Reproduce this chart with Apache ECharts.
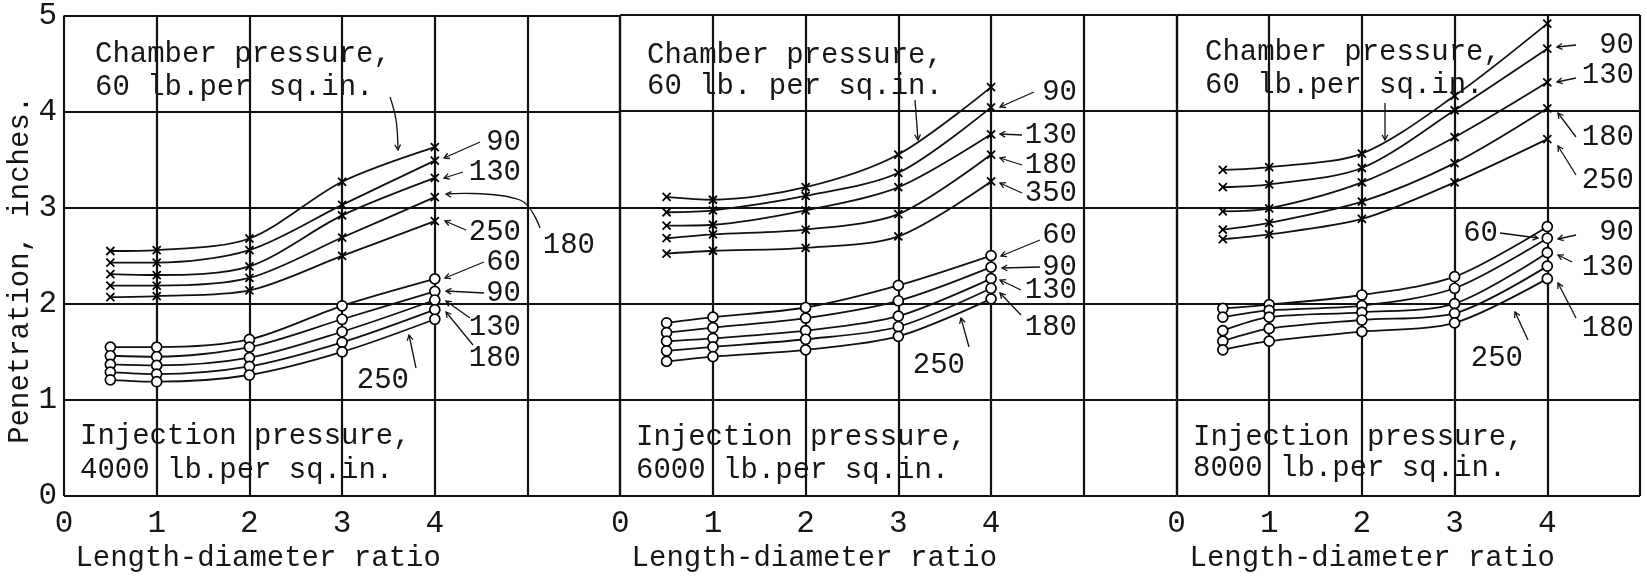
<!DOCTYPE html>
<html>
<head>
<meta charset="utf-8">
<script src="https://cdn.jsdelivr.net/npm/echarts@6/dist/echarts.min.js"></script>
<style>
  html, body { margin: 0; padding: 0; background: #fff; }
  #penChart { width: 1647px; height: 578px; }
</style>
</head>
<body>
<div id="penChart"></div>
<script>
// length-diameter ratios where points were measured
const ratios = [0.5, 1, 2, 3, 4];
// chamber pressures, lb per sq in (one curve each)
const chamberPressures = [60, 90, 130, 180, 250];
const xTicks = [0, 1, 2, 3, 4];
const yTicks = [0, 1, 2, 3, 4, 5];

// injection pressure 4000 lb/sq in
const inj4000Cross = [
  [2.55, 2.56, 2.68, 3.27, 3.63],
  [2.43, 2.43, 2.56, 3.03, 3.49],
  [2.31, 2.30, 2.39, 2.92, 3.31],
  [2.19, 2.19, 2.27, 2.69, 3.11],
  [2.07, 2.08, 2.14, 2.50, 2.86],
];
const inj4000Circle = [
  [1.55, 1.55, 1.63, 1.98, 2.26],
  [1.46, 1.45, 1.55, 1.84, 2.13],
  [1.37, 1.36, 1.44, 1.71, 2.04],
  [1.29, 1.27, 1.35, 1.60, 1.94],
  [1.21, 1.19, 1.26, 1.50, 1.84],
];
// injection pressure 6000 lb/sq in
const inj6000Cross = [
  [3.11, 3.08, 3.21, 3.55, 4.25],
  [2.95, 2.97, 3.12, 3.36, 4.04],
  [2.81, 2.82, 2.97, 3.21, 3.76],
  [2.68, 2.72, 2.77, 2.93, 3.55],
  [2.52, 2.55, 2.58, 2.70, 3.27],
];
const inj6000Circle = [
  [1.80, 1.86, 1.96, 2.19, 2.50],
  [1.70, 1.75, 1.85, 2.03, 2.38],
  [1.61, 1.64, 1.72, 1.87, 2.26],
  [1.51, 1.55, 1.63, 1.76, 2.16],
  [1.40, 1.45, 1.52, 1.66, 2.05],
];
// injection pressure 8000 lb/sq in
const inj8000Cross = [
  [3.39, 3.42, 3.56, 4.16, 4.91],
  [3.21, 3.24, 3.41, 4.01, 4.65],
  [2.96, 2.99, 3.26, 3.73, 4.30],
  [2.77, 2.84, 3.06, 3.46, 4.03],
  [2.67, 2.72, 2.88, 3.26, 3.71],
];
const inj8000Circle = [
  [1.95, 1.99, 2.09, 2.28, 2.80],
  [1.86, 1.93, 1.98, 2.16, 2.68],
  [1.72, 1.86, 1.91, 2.00, 2.53],
  [1.61, 1.74, 1.83, 1.90, 2.39],
  [1.52, 1.61, 1.71, 1.80, 2.26],
];

const panels = [
  { cross: inj4000Cross, circle: inj4000Circle },
  { cross: inj6000Cross, circle: inj6000Circle },
  { cross: inj8000Cross, circle: inj8000Circle },
];

var myChart = echarts.init(document.getElementById("penChart"));

const FONT = "Liberation Mono";
const INK = "#161616";
const col = (1640 - 64) / 17; // one grid square

const grids = [
  { left: 64, width: col * 6, top: 15, height: 484 },
  { left: 64 + col * 6, width: col * 6, top: 15, height: 484 },
  { left: 64 + col * 12, width: col * 5, top: 15, height: 484 },
];

const xAxes = grids.map((g, i) => ({
  type: "value",
  gridIndex: i,
  min: 0,
  max: i == 2 ? 5 : 6,
  interval: 1,
  axisLine: { show: false },
  axisTick: { show: false },
  axisLabel: {
    margin: 12,
    fontFamily: FONT,
    fontSize: 31,
    color: INK,
    formatter: (v) => (xTicks.indexOf(v) >= 0 ? String(v) : ""),
  },
  splitLine: { lineStyle: { color: "#111", width: 2.2 } },
  name: "Length-diameter ratio",
  nameLocation: "middle",
  nameGap: 42,
  nameTextStyle: {
    fontFamily: FONT,
    fontSize: 29,
    color: INK,
    padding: [0, i == 2 ? 72 : 168, 0, 0],
  },
}));

const yAxes = grids.map((g, i) => ({
  type: "value",
  gridIndex: i,
  min: 0,
  max: 5,
  interval: 1,
  axisLine: { show: false },
  axisTick: { show: false },
  axisLabel: {
    show: i == 0,
    margin: 7,
    fontFamily: FONT,
    fontSize: 31,
    color: INK,
    padding: [6, 0, 0, 0],
    formatter: (v) => (yTicks.indexOf(v) >= 0 ? String(v) : ""),
  },
  splitLine: { lineStyle: { color: "#111", width: 2.2 } },
  name: i == 0 ? "Penetration, inches." : "",
  nameLocation: "middle",
  nameGap: 22,
  nameTextStyle: { fontFamily: FONT, fontSize: 29, color: INK, padding: [0, 28, 0, 0] },
}));

const series = [];
panels.forEach((p, gi) => {
  chamberPressures.forEach((cp, k) => {
    series.push({
      name: cp + " (x)",
      type: "line",
      xAxisIndex: gi,
      yAxisIndex: gi,
      smooth: 0.3,
      symbol: "path://M0,0L10,10M10,0L0,10",
      symbolSize: 8,
      itemStyle: { color: "transparent", borderColor: "#000", borderWidth: 1.8 },
      lineStyle: { color: "#111", width: 1.8 },
      data: ratios.map((r, j) => [r, p.cross[k][j]]),
      z: 3,
    });
    series.push({
      name: cp + " (o)",
      type: "line",
      xAxisIndex: gi,
      yAxisIndex: gi,
      smooth: 0.3,
      symbol: "circle",
      symbolSize: 10,
      itemStyle: { color: "#fff", borderColor: "#000", borderWidth: 1.7 },
      lineStyle: { color: "#111", width: 1.8 },
      data: ratios.map((r, j) => [r, p.circle[k][j]]),
      z: 3,
    });
  });
});

// annotation texts: [text, x, y, align]
const notes = [
  ["Chamber pressure,", 95, 54, "left"],
  ["60 lb.per sq.in.", 95, 87, "left"],
  ["Injection pressure,", 80, 436, "left"],
  ["4000 lb.per sq.in.", 80, 470, "left"],
  ["90", 521, 142, "right"],
  ["130", 521, 172, "right"],
  ["250", 521, 232, "right"],
  ["180", 595, 245, "right"],
  ["60", 521, 262, "right"],
  ["90", 521, 293, "right"],
  ["130", 521, 327, "right"],
  ["180", 521, 358, "right"],
  ["250", 409, 380, "right"],

  ["Chamber pressure,", 647, 55, "left"],
  ["60 lb. per sq.in.", 647, 86, "left"],
  ["Injection pressure,", 636, 437, "left"],
  ["6000 lb.per sq.in.", 636, 470, "left"],
  ["90", 1077, 92, "right"],
  ["130", 1077, 135, "right"],
  ["180", 1077, 165, "right"],
  ["350", 1077, 193, "right"],
  ["60", 1077, 235, "right"],
  ["90", 1077, 267, "right"],
  ["130", 1077, 290, "right"],
  ["180", 1077, 327, "right"],
  ["250", 965, 365, "right"],

  ["Chamber pressure,", 1205, 52, "left"],
  ["60 lb.per sq.in.", 1205, 85, "left"],
  ["Injection pressure,", 1193, 437, "left"],
  ["8000 lb.per sq.in.", 1193, 468, "left"],
  ["90", 1634, 45, "right"],
  ["130", 1634, 75, "right"],
  ["180", 1634, 137, "right"],
  ["250", 1634, 180, "right"],
  ["60", 1498, 233, "right"],
  ["90", 1634, 232, "right"],
  ["130", 1634, 267, "right"],
  ["180", 1634, 328, "right"],
  ["250", 1523, 358, "right"],
];

// leader arrows: from label to curve
const leaders = [
  [[390, 97], [396, 120], [398, 150]],
  [[480, 142], [444, 158]],
  [[463, 172], [444, 178]],
  [[540, 228], [520, 200], [446, 194]],
  [[466, 230], [445, 221]],
  [[484, 262], [445, 278]],
  [[484, 293], [446, 291]],
  [[470, 318], [446, 301]],
  [[473, 345], [446, 312]],
  [[416, 368], [409, 335]],

  [[915, 100], [918, 140]],
  [[1034, 92], [1000, 107]],
  [[1022, 135], [1000, 134]],
  [[1022, 165], [1000, 158]],
  [[1022, 193], [1000, 183]],
  [[1040, 240], [1001, 256]],
  [[1040, 267], [1002, 268]],
  [[1021, 290], [1000, 280]],
  [[1021, 315], [1000, 293]],
  [[969, 347], [961, 318]],

  [[1385, 103], [1385, 140]],
  [[1576, 45], [1557, 47]],
  [[1576, 78], [1557, 82]],
  [[1576, 137], [1558, 113]],
  [[1576, 175], [1558, 146]],
  [[1500, 233], [1538, 238]],
  [[1576, 235], [1558, 239]],
  [[1572, 262], [1558, 255]],
  [[1576, 318], [1558, 283]],
  [[1528, 340], [1515, 312]],
];

const graphic = [];
notes.forEach((n) => {
  graphic.push({
    type: "text",
    x: n[1],
    y: n[2],
    silent: true,
    style: {
      text: n[0],
      fontFamily: FONT,
      fontSize: 29,
      fill: INK,
      align: n[3],
      verticalAlign: "middle",
    },
    z: 10,
  });
});
leaders.forEach((pts) => {
  graphic.push({
    type: "polyline",
    shape: { points: pts, smooth: pts.length > 2 ? 0.4 : 0 },
    style: { stroke: "#111", lineWidth: 1.3, fill: null },
    silent: true,
    z: 10,
  });
  // small arrow head at the curve end
  const a = pts[pts.length - 2], b = pts[pts.length - 1];
  const ang = Math.atan2(b[1] - a[1], b[0] - a[0]);
  const h = 6;
  graphic.push({
    type: "polyline",
    shape: {
      points: [
        [b[0] - h * Math.cos(ang - 0.5), b[1] - h * Math.sin(ang - 0.5)],
        b,
        [b[0] - h * Math.cos(ang + 0.5), b[1] - h * Math.sin(ang + 0.5)],
      ],
    },
    style: { stroke: "#111", lineWidth: 1.3, fill: null },
    silent: true,
    z: 10,
  });
});

const option = {
  backgroundColor: "#fff",
  animation: false,
  grid: grids,
  xAxis: xAxes,
  yAxis: yAxes,
  series: series,
  graphic: graphic,
};

myChart.setOption(option);
</script>
</body>
</html>
